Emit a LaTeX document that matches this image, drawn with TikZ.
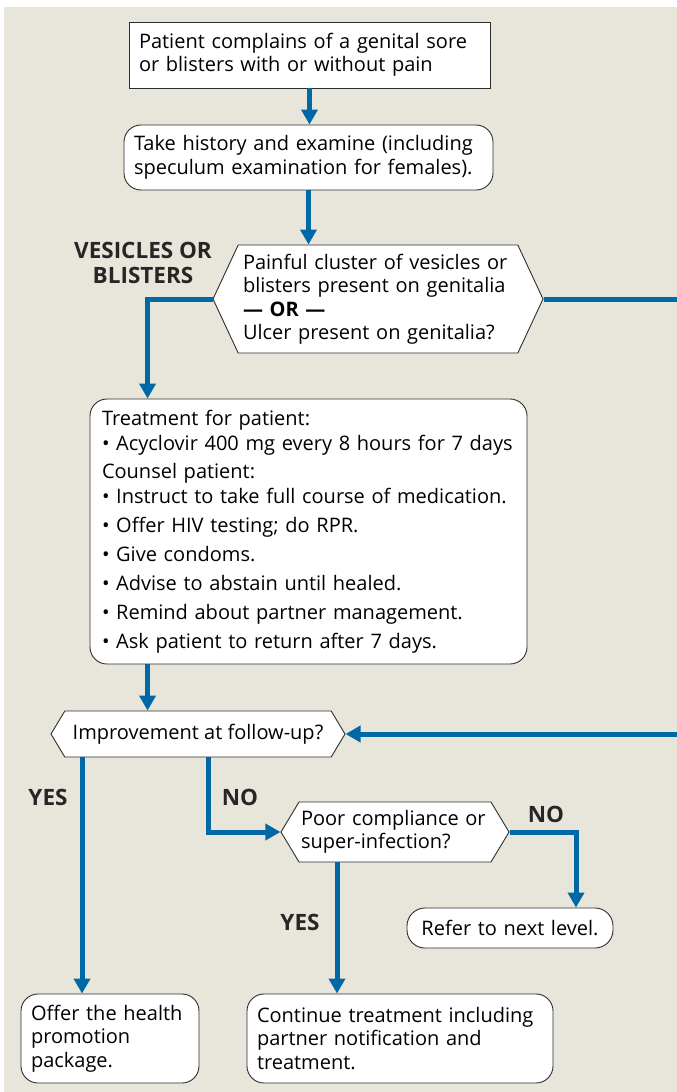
\documentclass[tikz,border=0pt]{standalone}
\usepackage{fontspec}
\setmainfont{Open Sans}
\usetikzlibrary{arrows.meta,shapes.symbols}
\definecolor{flowblue}{RGB}{0,104,165}
\definecolor{panel}{RGB}{232,230,218}
\definecolor{edgegray}{RGB}{45,45,45}
\tikzset{
  base/.style={draw=edgegray, line width=0.9pt, fill=white, inner xsep=10pt, inner ysep=0pt,
    align=left, font=\fontsize{20}{23.5}\selectfont},
  plainbox/.style={base, rectangle},
  roundbox/.style={base, rectangle, rounded corners=17pt},
  decision/.style={base, inner xsep=2pt, signal, signal to=west and east, signal pointer angle=#1},
  flow/.style={draw=flowblue, line width=5pt, -{Triangle[width=16pt,length=15pt]}},
  answer/.style={font=\fontsize{22.5}{24.5}\selectfont\bfseries, align=center, text=black!85, inner sep=0pt},
}
\begin{document}
\begin{tikzpicture}[x=1pt, y=-1pt]
\useasboundingbox (0,0) rectangle (677,1092);
\clip (0,0) rectangle (677,1092);
\fill[panel] (4,7) rectangle (677,1092);

% boxes and decisions
\node[plainbox, text width=341pt, minimum height=66pt] (complaint) at (309.5,55)
  {Patient complains of a genital sore\\or blisters with or without pain};
\node[roundbox, text width=349pt, minimum height=65pt] (history) at (308.5,157.5)
  {Take history and examine (including\\speculum examination for females).};
\node[decision=130, text width=270pt, minimum width=330pt, minimum height=108pt] (lesion) at (378,299)
  {Painful cluster of vesicles or\\blisters present on genitalia\\\textbf{— OR —}\\Ulcer present on genitalia?};
\node[roundbox, inner xsep=12pt, text width=413pt, minimum height=265pt,
  font=\fontsize{20}{25}\selectfont] (care) at (308.5,531.5)
  {Treatment for patient:\\
   • Acyclovir 400 mg every 8 hours for 7 days\\[3pt]
   Counsel patient:\\
   • Instruct to take full course of medication.\\[4pt]
   • Offer HIV testing; do RPR.\\[4pt]
   • Give condoms.\\[4pt]
   • Advise to abstain until healed.\\[4pt]
   • Remind about partner management.\\[4pt]
   • Ask patient to return after 7 days.};
\node[decision=118, minimum width=294pt, minimum height=46pt] (followup) at (198,734)
  {Improvement at follow-up?};
\node[decision=118, text width=188pt, minimum width=222pt, minimum height=60pt] (compliance) at (395,832)
  {Poor compliance or\\super-infection?};
\node[roundbox, rounded corners=18pt, align=center, text width=186pt, minimum height=40pt] (refer) at (510,928)
  {Refer to next level.};
\node[roundbox, text width=158pt, minimum height=89pt] (promote) at (110,1038.5)
  {Offer the health\\promotion\\package.};
\node[roundbox, text width=286pt, minimum height=89pt] (continue) at (400,1038.5)
  {Continue treatment including\\partner notification and\\treatment.};

% answers
\node[answer] (vesicles) at (143,263) {VESICLES OR\\BLISTERS};
\node[answer] (yesfirst) at (48,797) {YES};
\node[answer] (nofirst) at (240,797) {NO};
\node[answer] (nosecond) at (546,814) {NO};
\node[answer] (yessecond) at (300,922) {YES};

% connectors
\coordinate (offpage) at (700,0);
\draw[flow] (complaint.south) -- (complaint.south |- history.north);
\draw[flow] (history.south) -- (history.south |- lesion.north);
\draw[flow] (lesion.west) -| ([xshift=58pt]care.north west);
\draw[flow] (lesion.east) -| (offpage |- followup.east) -- (followup.east);
\draw[flow] ([xshift=58pt]care.south west) -- ([xshift=58pt]care.south west |- followup.north);
\draw[flow] ([xshift=-116pt]followup.south) -- ([xshift=-116pt]followup.south |- promote.north);
\draw[flow] ([xshift=10pt]followup.south) |- (compliance.west);
\draw[flow] (compliance.east) -| ([xshift=66pt]refer.north);
\draw[flow] ([xshift=-58pt]compliance.south) -- ([xshift=-58pt]compliance.south |- continue.north);
\end{tikzpicture}
\end{document}
